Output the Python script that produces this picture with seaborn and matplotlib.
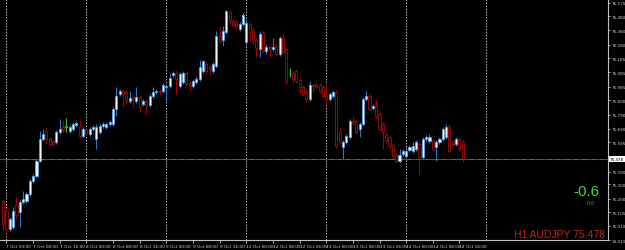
import matplotlib
matplotlib.use("Agg")
import matplotlib.pyplot as plt
import seaborn as sns
import pandas as pd

# ---------------- data (H1 AUDJPY, bar index 0 = 7 Oct 00:00) ----------------
first_bar = -1
opens = [
    75.186,
    75.116, 74.990, 75.004, 75.165, 75.109, 75.179, 75.186, 75.235, 75.326, 75.361,
    75.466, 75.620, 75.676, 75.620, 75.599, 75.599, 75.669, 75.704, 75.704, 75.676,
    75.690, 75.718, 75.711, 75.641, 75.690, 75.655, 75.690, 75.620, 75.669, 75.711,
    75.704, 75.725, 75.725, 75.830, 75.935, 75.956, 75.949, 75.886, 75.914, 75.886,
    75.914, 75.865, 75.886, 75.858, 75.921, 75.949, 75.956, 75.956, 75.984, 75.991,
    76.068, 76.082, 75.991, 76.019, 76.082, 76.012, 75.991, 76.019, 76.040, 76.096,
    76.145, 76.124, 76.096, 76.131, 76.341, 76.313, 76.369, 76.509, 76.446, 76.439,
    76.390, 76.425, 76.299, 76.425, 76.383, 76.313, 76.250, 76.362, 76.236, 76.264,
    76.250, 76.271, 76.215, 76.327, 76.250, 76.082, 76.082, 76.096, 76.033, 75.984,
    75.949, 75.900, 75.998, 75.998, 75.998, 75.984, 75.921, 75.900, 75.921, 75.949,
    75.669, 75.564, 75.599, 75.634, 75.746, 75.746, 75.690, 75.725, 75.900, 75.921,
    75.837, 75.851, 75.795, 75.725, 75.655, 75.634, 75.578, 75.508, 75.466, 75.515,
    75.501, 75.543, 75.536, 75.550, 75.585, 75.494, 75.620, 75.606, 75.606, 75.564,
    75.599, 75.620, 75.634, 75.704, 75.599, 75.585, 75.620, 75.599,
]
highs = [
    75.200,
    75.130, 75.074, 75.144, 75.214, 75.193, 75.256, 75.249, 75.340, 75.375, 75.480,
    75.676, 75.690, 75.690, 75.634, 75.613, 75.683, 75.760, 75.753, 75.767, 75.718,
    75.739, 75.746, 75.753, 75.704, 75.704, 75.704, 75.718, 75.725, 75.725, 75.739,
    75.739, 75.753, 75.844, 75.984, 75.970, 75.970, 75.963, 75.956, 75.928, 75.984,
    75.928, 75.900, 75.900, 75.935, 75.984, 75.970, 75.970, 76.012, 76.005, 76.082,
    76.096, 76.096, 76.089, 76.096, 76.096, 76.026, 76.040, 76.061, 76.173, 76.173,
    76.159, 76.138, 76.159, 76.376, 76.411, 76.411, 76.523, 76.523, 76.460, 76.453,
    76.439, 76.502, 76.446, 76.439, 76.397, 76.327, 76.376, 76.376, 76.285, 76.278,
    76.327, 76.285, 76.341, 76.355, 76.264, 76.117, 76.096, 76.110, 76.047, 75.998,
    75.963, 76.026, 76.012, 76.019, 76.012, 75.998, 76.005, 75.949, 75.963, 75.963,
    75.704, 75.613, 75.655, 75.760, 75.781, 75.760, 75.739, 75.914, 75.956, 75.935,
    75.865, 75.900, 75.809, 75.739, 75.669, 75.648, 75.592, 75.522, 75.550, 75.550,
    75.564, 75.578, 75.599, 75.613, 75.599, 75.634, 75.648, 75.655, 75.620, 75.613,
    75.634, 75.704, 75.725, 75.725, 75.613, 75.634, 75.634, 75.613,
]
lows = [
    74.976,
    74.955, 74.976, 74.990, 75.060, 75.004, 75.165, 75.172, 75.221, 75.312, 75.347,
    75.459, 75.606, 75.585, 75.571, 75.571, 75.585, 75.655, 75.669, 75.669, 75.662,
    75.676, 75.704, 75.627, 75.627, 75.641, 75.641, 75.676, 75.550, 75.655, 75.697,
    75.690, 75.711, 75.711, 75.781, 75.921, 75.844, 75.865, 75.872, 75.844, 75.872,
    75.809, 75.851, 75.795, 75.844, 75.907, 75.935, 75.928, 75.942, 75.900, 75.977,
    76.054, 75.935, 75.977, 76.005, 75.991, 75.963, 75.977, 76.005, 76.026, 76.082,
    76.075, 76.075, 76.082, 76.117, 76.292, 76.271, 76.355, 76.425, 76.404, 76.390,
    76.376, 76.411, 76.285, 76.306, 76.285, 76.201, 76.194, 76.222, 76.215, 76.194,
    76.236, 76.201, 76.201, 76.215, 76.005, 76.054, 76.012, 76.012, 75.935, 75.921,
    75.879, 75.886, 75.949, 75.970, 75.942, 75.907, 75.858, 75.886, 75.907, 75.557,
    75.578, 75.480, 75.585, 75.620, 75.718, 75.655, 75.634, 75.711, 75.886, 75.816,
    75.823, 75.767, 75.676, 75.550, 75.592, 75.557, 75.487, 75.452, 75.452, 75.501,
    75.487, 75.529, 75.522, 75.536, 75.375, 75.480, 75.606, 75.592, 75.536, 75.466,
    75.585, 75.606, 75.620, 75.522, 75.571, 75.571, 75.536, 75.459,
]
closes = [
    75.025,
    74.990, 75.060, 75.116, 75.088, 75.179, 75.200, 75.235, 75.326, 75.361, 75.466,
    75.620, 75.655, 75.620, 75.585, 75.585, 75.669, 75.690, 75.683, 75.704, 75.704,
    75.725, 75.732, 75.641, 75.690, 75.655, 75.690, 75.704, 75.704, 75.711, 75.725,
    75.725, 75.739, 75.830, 75.921, 75.956, 75.935, 75.886, 75.907, 75.900, 75.914,
    75.844, 75.886, 75.851, 75.921, 75.949, 75.956, 75.949, 75.998, 75.991, 76.047,
    76.082, 76.040, 76.075, 76.082, 76.005, 75.991, 76.026, 76.040, 76.124, 76.166,
    76.096, 76.110, 76.145, 76.341, 76.306, 76.376, 76.516, 76.446, 76.418, 76.411,
    76.425, 76.488, 76.432, 76.369, 76.306, 76.257, 76.355, 76.236, 76.264, 76.250,
    76.264, 76.215, 76.327, 76.229, 76.019, 76.082, 76.040, 76.026, 75.984, 75.935,
    75.900, 75.998, 75.991, 75.984, 75.956, 75.921, 75.900, 75.935, 75.949, 75.571,
    75.599, 75.599, 75.641, 75.746, 75.732, 75.669, 75.725, 75.900, 75.921, 75.830,
    75.851, 75.781, 75.690, 75.669, 75.606, 75.571, 75.501, 75.466, 75.508, 75.536,
    75.536, 75.564, 75.571, 75.599, 75.494, 75.620, 75.634, 75.634, 75.550, 75.599,
    75.620, 75.690, 75.704, 75.536, 75.585, 75.620, 75.550, 75.478,
]

time_tick_bars = list(range(0, 137, 8))
time_tick_labels = [
    "7 Oct 00:00", "7 Oct 08:00", "7 Oct 16:00",
    "8 Oct 00:00", "8 Oct 08:00", "8 Oct 16:00",
    "9 Oct 00:00", "9 Oct 08:00", "9 Oct 16:00",
    "12 Oct 00:00", "12 Oct 08:00", "12 Oct 16:00",
    "13 Oct 00:00", "13 Oct 08:00", "13 Oct 16:00",
    "14 Oct 00:00", "14 Oct 08:00", "14 Oct 16:00",
]
day_separators = [0, 24, 48, 72, 96, 120, 144]
price_ticks = [76.575, 76.480, 76.380, 76.280, 76.185, 76.085, 75.985, 75.890,
               75.790, 75.690, 75.595, 75.390, 75.300, 75.200, 75.105, 75.010, 74.910]
current_price = 75.478
change_text = "-0.6"
sub_text = "0.0"
title_text = "H1 AUDJPY 75.478"

# ---------------- styling ----------------
sns.set_theme(style="dark", rc={
    "axes.facecolor": "black", "figure.facecolor": "black",
    "axes.edgecolor": "#c0c0c0", "axes.grid": False,
})
plt.rcParams["font.family"] = ["Liberation Sans Narrow", "DejaVu Sans"]

df = pd.DataFrame({"open": opens, "high": highs, "low": lows, "close": closes})
df["bar"] = range(first_bar, first_bar + len(df))

fig = plt.figure(figsize=(6.25, 2.51), dpi=100)
fig.patch.set_facecolor("black")
ax = fig.add_axes([0, 10 / 251, 608 / 625, 241 / 251])
ax.set_facecolor("black")

UP_WICK, UP_FACE, UP_EDGE = "#2b78c8", "#eef7ff", "#5aa6ee"
DN_WICK, DN_FACE, DN_EDGE = "#a00000", "#000000", "#c01010"
DOJI = "#22cc22"

for sep in day_separators:
    ax.axvline(sep, color="#bdbdbd", lw=0.7, ls=(0, (1.5, 1.5)), zorder=1)

ax.axhline(current_price, color="#6a6a6a", lw=0.7, zorder=1)
ax.axhline(current_price, color="#1a6e1a", lw=0.9, ls=(0, (4, 3)), zorder=1)

for _, r in df.iterrows():
    o, h, l, c, x = r["open"], r["high"], r["low"], r["close"], r["bar"]
    if c > o:
        wc, fc, ec = UP_WICK, UP_FACE, UP_EDGE
    elif c < o:
        wc, fc, ec = DN_WICK, DN_FACE, DN_EDGE
    else:
        wc, fc, ec = DOJI, DOJI, DOJI
    ax.vlines(x, l, h, color=wc, lw=0.8, zorder=2)
    body = max(abs(c - o), 0.002)
    ax.bar(x, body, bottom=min(o, c), width=0.62, facecolor=fc, edgecolor=ec,
           linewidth=0.5, zorder=3)

ax.set_xlim(-1.95, 180.6)
ax.set_ylim(76.600 - 0.007 * 241, 76.600)

for s in ["top", "left"]:
    ax.spines[s].set_visible(False)
for s in ["right", "bottom"]:
    ax.spines[s].set_color("#c0c0c0")
    ax.spines[s].set_linewidth(0.8)

ax.yaxis.tick_right()
ax.set_yticks(price_ticks)
ax.set_yticklabels([f"{p:.3f}" for p in price_ticks])
ax.tick_params(axis="y", right=True, left=False, direction="out", length=1.5,
               width=0.6, colors="#cfcfcf", labelsize=3.0, pad=1)
ax.set_xticks(time_tick_bars)
ax.set_xticklabels(time_tick_labels)
ax.tick_params(axis="x", bottom=True, direction="out", length=2, width=0.6,
               colors="#cfcfcf", labelsize=3.1, pad=1)
for lab in ax.get_xticklabels():
    lab.set_ha("left")

ax.text(1.003, current_price, f"{current_price:.3f}", transform=ax.get_yaxis_transform(),
        fontsize=3.0, color="black", va="center", ha="left",
        bbox=dict(facecolor="white", edgecolor="none", pad=0.6), clip_on=False)

fig.text(599 / 625, 1 - 196 / 251, change_text, ha="right", va="baseline",
         color="#3ddc3d", fontsize=11, family="Liberation Sans")
fig.text(591 / 625, 1 - 205 / 251, sub_text, ha="center", va="baseline",
         color="#2eb82e", fontsize=3.6)
fig.text(605 / 625, 1 - 238 / 251, title_text, ha="right", va="baseline",
         color="#cc2020", fontsize=7.5, family="Liberation Sans")

fig.savefig("out.png", dpi=100, facecolor="black")
